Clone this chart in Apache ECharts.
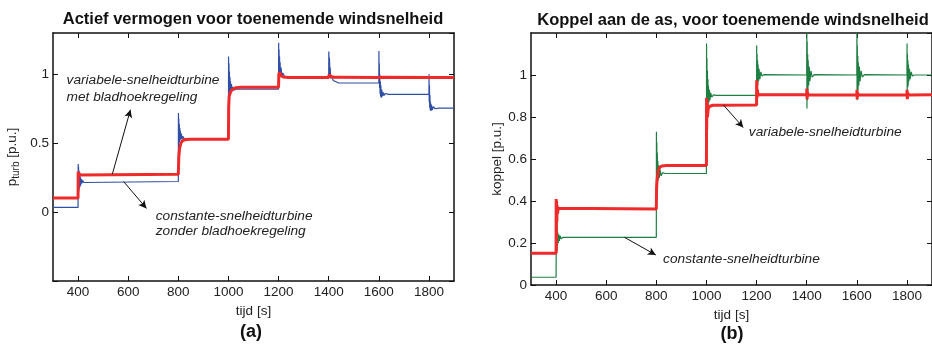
<!DOCTYPE html>
<html>
<head>
<meta charset="utf-8">
<script src="https://cdn.jsdelivr.net/npm/echarts@6/dist/echarts.min.js"></script>
<style>html,body{margin:0;padding:0;background:#fff;}#c{width:932px;height:344px;}</style>
</head>
<body>
<div id="c"></div>
<script>
// ---- Data ----
const titleA = 'Actief vermogen voor toenemende windsnelheid';
const titleB = 'Koppel aan de as, voor toenemende windsnelheid';
const xTicks = [400, 600, 800, 1000, 1200, 1400, 1600, 1800];
const yTicksA = ['0', '0.5', '1'];
const yTicksB = ['0', '0.2', '0.4', '0.6', '0.8', '1'];

// (a) constante-snelheidturbine, power [t, p.u.]
const constSpeedPower = [
  [300,0.034],[400,0.034],
  [400.5,0.35],[401,0.13],[402,0.33],[403,0.15],[404,0.30],[405,0.17],[406,0.28],[407,0.18],[408,0.26],[409,0.19],[410,0.25],[412,0.20],[414,0.24],[416,0.21],[419,0.23],[423,0.215],[430,0.222],[800,0.222],
  [800.5,0.72],[801,0.47],[802,0.68],[803,0.50],[804,0.64],[805,0.51],[806,0.61],[807,0.52],[808,0.59],[810,0.53],[812,0.57],[815,0.53],[818,0.55],[825,0.528],[1000,0.528],
  [1000.5,1.13],[1001,0.80],[1002,1.08],[1003,0.84],[1004,1.02],[1005,0.86],[1006,0.98],[1007,0.87],[1008,0.95],[1010,0.87],[1012,0.93],[1014,0.88],[1017,0.91],[1022,0.885],[1030,0.893],[1200,0.893],
  [1200.5,1.23],[1201,1.0],[1202,1.18],[1203,1.01],[1204,1.13],[1205,1.0],[1206,1.09],[1208,0.99],[1210,1.05],[1213,0.99],[1217,1.01],[1225,0.98],[1240,0.976],[1400,0.976],
  [1400.5,1.165],[1402,1.04],[1403,1.12],[1405,1.0],[1406,1.05],[1408,0.97],[1412,0.985],[1418,0.955],[1425,0.943],[1440,0.937],[1600,0.937],
  [1600.5,1.17],[1601,0.95],[1602,1.08],[1603,0.90],[1604,1.0],[1605,0.86],[1606,0.95],[1607,0.84],[1608,0.92],[1610,0.83],[1612,0.89],[1614,0.84],[1617,0.87],[1620,0.845],[1625,0.86],[1640,0.854],[1800,0.854],
  [1800.5,1.0],[1801,0.80],[1802,0.92],[1803,0.76],[1804,0.85],[1805,0.74],[1806,0.80],[1808,0.735],[1810,0.78],[1813,0.74],[1817,0.765],[1825,0.75],[1840,0.755],[1900,0.755]
];
// (a) variabele-snelheidturbine, power
const varSpeedPower = [
  [300,0.102],[400,0.102],[400.5,0.293],[402,0.26],[404,0.285],[406,0.27],[410,0.274],[800,0.274],
  [802,0.40],[805,0.46],[810,0.50],[818,0.52],[830,0.527],[850,0.529],[1000,0.529],
  [1001,0.76],[1003,0.84],[1008,0.87],[1015,0.89],[1030,0.903],[1050,0.907],[1200,0.907],
  [1201,1.0],[1204,1.015],[1210,0.99],[1220,0.98],[1240,0.977],[1400,0.977],
  [1401,0.995],[1404,1.0],[1410,0.985],[1420,0.978],[1600,0.977],
  [1601,0.99],[1605,0.985],[1612,0.978],[1800,0.977],
  [1801,0.99],[1806,0.985],[1815,0.977],[1900,0.977]
];
// (b) constante-snelheidturbine, torque
const constSpeedTorque = [
  [300,0.037],[400,0.037],
  [400.5,0.14],[401,0.29],[402,0.15],[403,0.27],[404,0.17],[405,0.26],[406,0.19],[407,0.25],[409,0.20],[411,0.24],[413,0.21],[416,0.235],[420,0.22],[428,0.227],[800,0.227],
  [800.5,0.73],[801,0.47],[802,0.68],[803,0.48],[804,0.63],[805,0.49],[806,0.59],[808,0.50],[810,0.57],[812,0.51],[815,0.55],[819,0.52],[825,0.535],[835,0.531],[1000,0.531],
  [1000.5,1.15],[1001,0.73],[1002,1.08],[1003,0.78],[1004,1.02],[1005,0.82],[1006,0.98],[1007,0.85],[1008,0.95],[1010,0.87],[1012,0.93],[1014,0.88],[1017,0.915],[1021,0.895],[1028,0.905],[1040,0.903],[1200,0.903],
  [1200.5,1.14],[1201,0.90],[1202,1.10],[1203,0.93],[1204,1.07],[1205,0.95],[1206,1.05],[1208,0.97],[1210,1.03],[1213,0.98],[1217,1.015],[1222,0.995],[1230,1.002],[1400,1.0],
  [1400.5,1.25],[1401,0.84],[1402,1.16],[1403,0.88],[1404,1.10],[1405,0.92],[1406,1.07],[1408,0.95],[1410,1.04],[1413,0.97],[1417,1.02],[1422,0.99],[1430,1.002],[1600,1.0],
  [1600.5,1.25],[1601,0.88],[1602,1.14],[1603,0.90],[1604,1.09],[1605,0.93],[1606,1.06],[1608,0.95],[1610,1.04],[1613,0.97],[1617,1.02],[1622,0.99],[1630,1.002],[1800,1.0],
  [1800.5,1.15],[1801,0.92],[1802,1.10],[1803,0.94],[1804,1.07],[1805,0.95],[1806,1.05],[1808,0.97],[1810,1.03],[1813,0.98],[1817,1.015],[1822,0.995],[1830,1.0],[1900,1.0]
];
// (b) variabele-snelheidturbine, torque
const varSpeedTorque = [
  [300,0.151],[400,0.151],[400.5,0.41],[401,0.16],[402,0.40],[403,0.30],[404,0.38],[406,0.34],[408,0.365],[412,0.361],[800,0.362],
  [801,0.46],[803,0.50],[807,0.54],[813,0.56],[822,0.567],[840,0.569],[1000,0.569],
  [1000.5,0.89],[1001,0.74],[1002,0.88],[1004,0.80],[1007,0.84],[1012,0.85],[1025,0.856],[1200,0.857],
  [1200.5,0.975],[1201.5,0.89],[1203,0.93],[1206,0.905],[1215,0.906],[1400,0.906],
  [1400.5,0.935],[1401.5,0.885],[1403,0.918],[1406,0.905],[1600,0.906],
  [1600.5,0.93],[1601.5,0.885],[1603,0.915],[1606,0.905],[1800,0.906],
  [1800.5,0.93],[1801.5,0.885],[1803,0.915],[1806,0.905],[1900,0.906]
];

// ---- Chart ----
const FONT = 'Liberation Sans, Arial, sans-serif';
const chart = echarts.init(document.getElementById('c'), null, {renderer: 'canvas'});
const axisLineStyle = {color: '#111', width: 1.5};
function fmtFactory(list) {
  return function (v) {
    for (const s of list) { if (Math.abs(parseFloat(s) - v) < 1e-6) return s; }
    return '';
  };
}
function xAxes(gi) {
  return [
    {gridIndex: gi, type: 'value', min: 300, max: 1900, interval: 100, position: 'bottom',
     axisLine: {show: true, onZero: false, lineStyle: axisLineStyle},
     axisTick: {show: true, inside: true, length: 5, lineStyle: {color: '#111'},
       customValues: xTicks},
     axisLabel: {show: true, fontFamily: FONT, fontSize: 13.5, color: '#222', margin: 4,
       customValues: xTicks, formatter: v => String(v)},
     splitLine: {show: false},
     name: 'tijd [s]', nameLocation: 'middle', nameGap: gi === 0 ? 19 : 20,
     nameTextStyle: {fontFamily: FONT, fontSize: 13.5, color: '#222'}},
    {gridIndex: gi, type: 'value', min: 300, max: 1900, interval: 100, position: 'top',
     axisLine: {show: true, onZero: false, lineStyle: axisLineStyle},
     axisTick: {show: true, inside: true, length: 5, lineStyle: {color: '#111'}, customValues: xTicks},
     axisLabel: {show: false}, splitLine: {show: false}}
  ];
}
function yAxes(gi, min, max, interval, labels, name) {
  return [
    {gridIndex: gi, type: 'value', min: min, max: max, interval: interval, position: 'left',
     axisLine: {show: true, onZero: false, lineStyle: axisLineStyle},
     axisTick: {show: true, inside: true, length: 5, lineStyle: {color: '#111'}},
     axisLabel: {show: true, fontFamily: FONT, fontSize: 13.5, color: '#222', margin: 4,
       showMaxLabel: false, formatter: fmtFactory(labels)},
     splitLine: {show: false},
     name: name, nameLocation: 'middle', nameRotate: 90, nameGap: gi === 0 ? 32 : 26,
     nameTextStyle: {fontFamily: FONT, fontSize: 13.5, color: '#222',
       rich: {n: {fontFamily: FONT, fontSize: 13.5, color: '#222'},
              s: {fontFamily: FONT, fontSize: 10, color: '#222', padding: [8, 0, 0, 0]}}}},
    {gridIndex: gi, type: 'value', min: min, max: max, interval: interval, position: 'right',
     axisLine: {show: true, onZero: false, lineStyle: axisLineStyle},
     axisTick: {show: true, inside: true, length: 5, lineStyle: {color: '#111'}},
     axisLabel: {show: false}, splitLine: {show: false}}
  ];
}

const option = {
  animation: false,
  backgroundColor: '#fff',
  title: [
    {text: titleA, left: 248, top: 6, textAlign: 'center',
     textStyle: {fontFamily: FONT, fontSize: 16.5, fontWeight: 'bold', color: '#111'}},
    {text: titleB, left: 728, top: 7, textAlign: 'center',
     textStyle: {fontFamily: FONT, fontSize: 16.5, fontWeight: 'bold', color: '#111'}},
    {text: '(a)', left: 246, top: 318, textAlign: 'center',
     textStyle: {fontFamily: FONT, fontSize: 18, fontWeight: 'bold', color: '#111'}},
    {text: '(b)', left: 727, top: 320, textAlign: 'center',
     textStyle: {fontFamily: FONT, fontSize: 18, fontWeight: 'bold', color: '#111'}}
  ],
  grid: [
    {left: 53, top: 33, width: 401, height: 248, containLabel: false},
    {left: 531, top: 33, width: 406, height: 252, containLabel: false}
  ],
  xAxis: [...xAxes(0), ...xAxes(1)],
  yAxis: [
    ...yAxes(0, -0.5, 1.3, 0.5, yTicksA, '{n|p}{s|turb}{n| [p.u.]}'),
    ...yAxes(1, 0, 1.2, 0.2, yTicksB, 'koppel [p.u.]')
  ],
  series: [
    {type: 'line', xAxisIndex: 0, yAxisIndex: 0, data: constSpeedPower, showSymbol: false, symbol: 'none',
     lineStyle: {color: '#2f4fa6', width: 1.2}, z: 2, clip: true,
     markLine: {silent: true, symbol: ['none', 'arrow'], symbolSize: [6, 8], label: {show: false},
       lineStyle: {color: '#111', width: 1, type: 'solid'},
       data: [
         [{coord: [537, 0.277]}, {coord: [609, 0.743]}],
         [{coord: [582, 0.221]}, {coord: [673, 0.027]}]
       ]}},
    {type: 'line', xAxisIndex: 0, yAxisIndex: 0, data: varSpeedPower, showSymbol: false, symbol: 'none',
     lineStyle: {color: '#ee2a2a', width: 3}, z: 3, clip: true},
    {type: 'line', xAxisIndex: 2, yAxisIndex: 2, data: constSpeedTorque, showSymbol: false, symbol: 'none',
     lineStyle: {color: '#1e7f42', width: 1.2}, z: 2, clip: true,
     markLine: {silent: true, symbol: ['none', 'arrow'], symbolSize: [6, 8], label: {show: false},
       lineStyle: {color: '#111', width: 1, type: 'solid'},
       data: [
         [{coord: [1068, 0.857]}, {coord: [1147, 0.750]}],
         [{coord: [673, 0.227]}, {coord: [798, 0.143]}]
       ]}},
    {type: 'line', xAxisIndex: 2, yAxisIndex: 2, data: varSpeedTorque, showSymbol: false, symbol: 'none',
     lineStyle: {color: '#ee2a2a', width: 3}, z: 3, clip: true}
  ]
};
chart.setOption(option);

// annotation texts anchored in data coordinates
const notes = [
  {grid: 0, at: [354, 0.954], text: 'variabele-snelheidturbine'},
  {grid: 0, at: [354, 0.832], text: 'met bladhoekregeling'},
  {grid: 0, at: [710, -0.027], text: 'constante-snelheidturbine'},
  {grid: 0, at: [710, -0.138], text: 'zonder bladhoekregeling'},
  {grid: 1, at: [1169, 0.728], text: 'variabele-snelheidturbine'},
  {grid: 1, at: [827, 0.124], text: 'constante-snelheidturbine'}
];
const graphics = notes.map(n => {
  const p = chart.convertToPixel({gridIndex: n.grid}, n.at);
  return {type: 'text', x: p[0], y: p[1], z: 10,
    style: {text: n.text, fontFamily: FONT, fontSize: 13.7, fontStyle: 'italic',
      fill: '#222', verticalAlign: 'middle', align: 'left'}};
});
chart.setOption({graphic: graphics});
</script>
</body>
</html>
